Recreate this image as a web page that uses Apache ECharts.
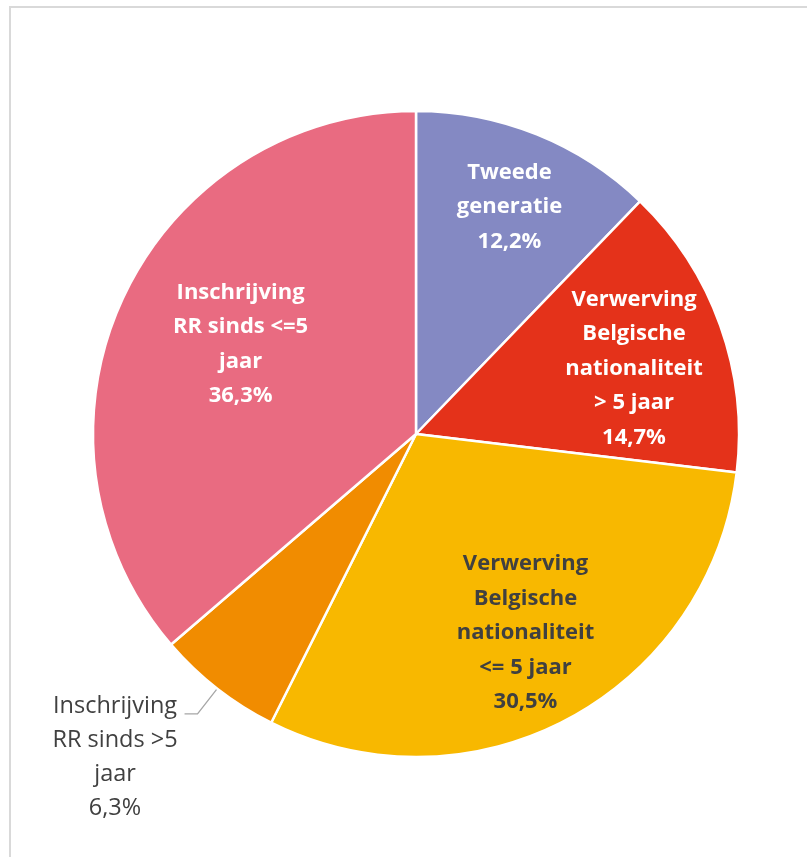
<!DOCTYPE html>
<html>
<head>
<meta charset="utf-8">
<script src="https://cdn.jsdelivr.net/npm/echarts@6/dist/echarts.min.js"></script>
<style>
  html, body { margin: 0; padding: 0; width: 807px; height: 857px; overflow: hidden; background: #fff; }
  #frame { position: absolute; left: 9px; top: 6px; width: 1000px; height: 1000px; border: 2px solid #d9d9d9; box-sizing: border-box; }
  #chart { position: absolute; left: 0; top: 0; width: 807px; height: 857px; }
</style>
</head>
<body>
<div id="frame"></div>
<div id="chart"></div>
<script>
// ---- data ----
const categories = [
  'Tweede generatie',
  'Verwerving Belgische nationaliteit > 5 jaar',
  'Verwerving Belgische nationaliteit <= 5 jaar',
  'Inschrijving RR sinds >5 jaar',
  'Inschrijving RR sinds <=5 jaar'
];
const values = [12.2, 14.7, 30.5, 6.3, 36.3];
const labelLines = [
  ['Tweede', 'generatie'],
  ['Verwerving', 'Belgische', 'nationaliteit', '> 5 jaar'],
  ['Verwerving', 'Belgische', 'nationaliteit', '<= 5 jaar'],
  ['Inschrijving', 'RR sinds >5', 'jaar'],
  ['Inschrijving', 'RR sinds <=5', 'jaar']
];

// ---- style ----
const colors = ['#8489c3', '#e4321a', '#f8b800', '#f18c00', '#e96b81'];
const labelColors = ['#ffffff', '#ffffff', '#404040', '#404040', '#ffffff'];
const labelRadiusRatio = [0.76, 0.71, 0.69, null, 0.61];
const labelNudge = [[0, 5], [-2, 13], [2, -1], [0, 0], [7, -6]];
const CX = 416, CY = 434, R = 323;
const FONT = '"Open Sans"';

function pct(v) { return v.toFixed(1).replace('.', ',') + '%'; }

const data = categories.map((name, i) => {
  const outside = labelRadiusRatio[i] === null;
  const item = {
    name: name,
    value: values[i],
    itemStyle: { color: colors[i] }
  };
  if (outside) {
    item.label = {
      show: true,
      position: 'outside',
      formatter: () => labelLines[i].concat([pct(values[i])]).map(t => '{a|' + t + '}').join('\n'),
      width: 127,
      padding: [87, 0, 0, 0],
      distanceToLabelLine: 6,
      rich: {
        a: { align: 'center', fontFamily: FONT, fontSize: 23.5, fontWeight: 'normal', color: '#404040', lineHeight: 34 }
      }
    };
    item.labelLine = { show: true, length: 32, length2: 13, lineStyle: { color: '#a6a6a6', width: 1.3 } };
  } else {
    item.label = {
      show: true,
      position: 'inside',
      formatter: () => labelLines[i].concat([pct(values[i])]).join('\n'),
      color: labelColors[i],
      fontFamily: FONT,
      fontSize: 22,
      fontWeight: 'bold',
      lineHeight: 34.5,
      align: 'center'
    };
    item.labelLine = { show: false };
  }
  return item;
});

const chart = echarts.init(document.getElementById('chart'), null, { renderer: 'canvas' });
chart.setOption({
  backgroundColor: 'transparent',
  animation: false,
  series: [{
    type: 'pie',
    center: [CX, CY],
    radius: [0, R],
    startAngle: 90,
    clockwise: true,
    avoidLabelOverlap: false,
    itemStyle: { borderColor: '#ffffff', borderWidth: 2.5 },
    emphasis: { disabled: true },
    data: data,
    labelLayout: function (params) {
      const i = params.dataIndex;
      const k = labelRadiusRatio[i];
      if (k === null || k === undefined) return {};
      const r = params.labelRect;
      const lx = r.x + r.width / 2, ly = r.y + r.height / 2;
      const f = 2 * k - 1;
      return { dx: (lx - CX) * f + labelNudge[i][0], dy: (ly - CY) * f + labelNudge[i][1] };
    }
  }]
});
</script>
</body>
</html>
